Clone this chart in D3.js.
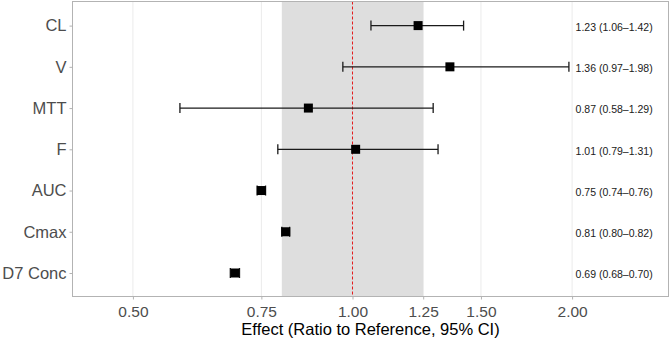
<!DOCTYPE html>
<html><head><meta charset="utf-8">
<script src="https://cdn.jsdelivr.net/npm/d3@7/dist/d3.min.js"></script>
<style>body{margin:0;background:#fff}svg{display:block;font-family:"Liberation Sans",Arial,Helvetica,sans-serif}</style>
</head><body><svg id="c" width="669" height="342"></svg>
<script>
const categories = ["CL","V","MTT","F","AUC","Cmax","D7 Conc"];
const estimates  = [1.23, 1.36, 0.87, 1.01, 0.75, 0.81, 0.69];
const lowers     = [1.06, 0.97, 0.58, 0.79, 0.74, 0.80, 0.68];
const uppers     = [1.42, 1.98, 1.29, 1.31, 0.76, 0.82, 0.70];
const xTicks     = [0.5, 0.75, 1.0, 1.25, 1.5, 2.0];
const refBand    = [0.8, 1.25];
const refLine    = 1.0;

const svg = d3.select("#c");
const L = 72.5, R = 668.5, T = 1.5, B = 296.5;
const x = d3.scaleLog().domain([0.4132, 2.7114]).range([L, R]);
const y = d3.scalePoint().domain(categories).range([25.6, 273]);
const fmt = d3.format(".2f");
const rows = categories.map((c,i)=>({c, e:estimates[i], lo:lowers[i], hi:uppers[i]}));

// grid
svg.append("g").selectAll("line").data(xTicks).join("line")
  .attr("x1", d=>x(d)).attr("x2", d=>x(d)).attr("y1", T).attr("y2", B)
  .attr("stroke", "#ebebeb").attr("stroke-width", 1);

// reference band
svg.append("rect").attr("x", x(refBand[0])).attr("width", x(refBand[1]) - x(refBand[0]))
  .attr("y", T).attr("height", B - T).attr("fill", "#dedede");

// ref line
svg.append("line").attr("x1", x(refLine)).attr("x2", x(refLine)).attr("y1", T).attr("y2", B)
  .attr("stroke", "#e41a1c").attr("stroke-width", 1).attr("stroke-dasharray", "3,2");

// error bars
const g = svg.append("g");
g.selectAll(".eb").data(rows).join("line")
  .attr("x1", d=>x(d.lo)).attr("x2", d=>x(d.hi)).attr("y1", d=>y(d.c)).attr("y2", d=>y(d.c))
  .attr("stroke", "#1a1a1a").attr("stroke-width", 1.3);
["lo","hi"].forEach(k=>{
  g.selectAll(".cap"+k).data(rows).join("line")
    .attr("x1", d=>x(d[k])).attr("x2", d=>x(d[k])).attr("y1", d=>y(d.c)-5).attr("y2", d=>y(d.c)+5)
    .attr("stroke", "#1a1a1a").attr("stroke-width", 1.3);
});
const s = 9;
g.selectAll("rect").data(rows).join("rect")
  .attr("x", d=>x(d.e)-s/2).attr("y", d=>y(d.c)-s/2).attr("width", s).attr("height", s)
  .attr("fill", "#000");

// right labels
svg.append("g").selectAll("text").data(rows).join("text")
  .attr("x", x(2.0) + 3.5).attr("y", d=>y(d.c)+5.2)
  .attr("font-size", "10.5px").attr("fill", "#1a1a1a")
  .text(d=>`${fmt(d.e)} (${fmt(d.lo)}\u2013${fmt(d.hi)})`);

// panel border
svg.append("rect").attr("x", L).attr("y", T).attr("width", R-L).attr("height", B-T)
  .attr("fill", "none").attr("stroke", "#b3b3b3").attr("stroke-width", 1);

// axes
const xAxis = d3.axisBottom(x).tickValues(xTicks).tickFormat(fmt).tickSize(3).tickPadding(6);
const gx = svg.append("g").attr("transform", `translate(0,${B})`).call(xAxis);
gx.select(".domain").remove();
gx.selectAll("line").attr("stroke", "#b3b3b3");
gx.selectAll("text").attr("font-size", "15.5px").attr("fill", "#4d4d4d").attr("font-family", null)
  .attr("dy", null).attr("y", 20);

const yAxis = d3.axisLeft(y).tickSize(3).tickPadding(3);
const gy = svg.append("g").attr("transform", `translate(${L},0)`).call(yAxis);
gy.select(".domain").remove();
gy.selectAll("line").attr("stroke", "#b3b3b3");
gy.selectAll("text").attr("font-size", "16.5px").attr("fill", "#4d4d4d").attr("font-family", null);

svg.append("text").attr("x", (L+R)/2).attr("y", 335).attr("text-anchor", "middle")
  .attr("font-size", "16.5px").attr("fill", "#000").text("Effect (Ratio to Reference, 95% CI)");
</script></body></html>
